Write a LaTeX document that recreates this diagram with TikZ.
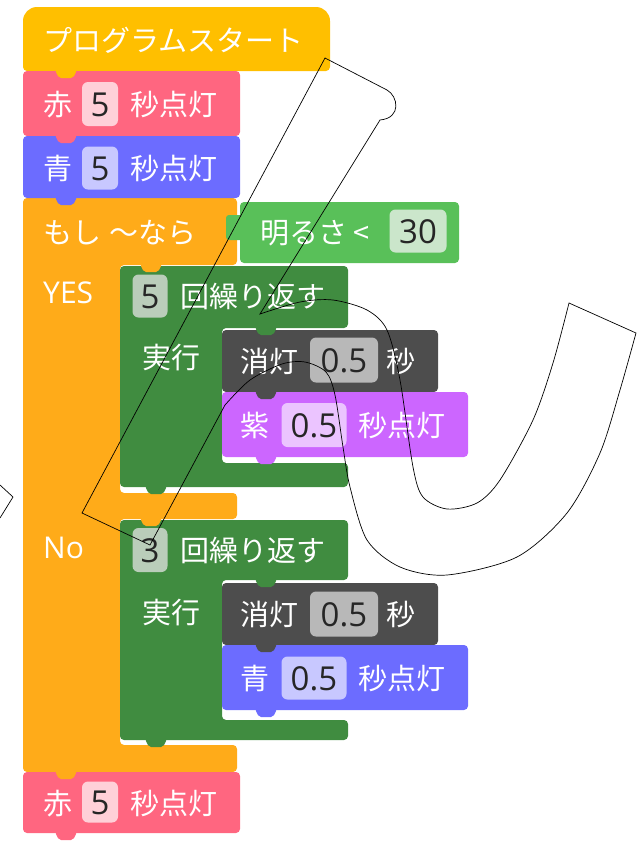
\documentclass[tikz,border=0pt]{standalone}
\usepackage{fontspec}
\newfontfamily\jp{Noto Sans CJK JP}
\newfontfamily\num{Open Sans}
\usetikzlibrary{positioning}

\definecolor{startY}{HTML}{FFBF00}
\definecolor{redB}{HTML}{FF6680}
\definecolor{blueB}{HTML}{6C6CFF}
\definecolor{orangeB}{HTML}{FFAB19}
\definecolor{condG}{HTML}{59C059}
\definecolor{loopG}{HTML}{408C40}
\definecolor{greyB}{HTML}{4D4D4D}
\definecolor{purpB}{HTML}{CC66FF}
\definecolor{redF}{HTML}{FFD0D8}
\definecolor{blueF}{HTML}{C8C8FF}
\definecolor{condF}{HTML}{CBE6CB}
\definecolor{loopF}{HTML}{BACDBA}
\definecolor{greyF}{HTML}{B8B8B8}
\definecolor{purpF}{HTML}{EBC4FF}

\begin{document}
\begin{tikzpicture}[x=1pt, y=-1pt,
  lbl/.style={anchor=west, inner sep=0pt, text=white, font=\jp\fontsize{29}{30}\selectfont, text height=24pt, text depth=2pt},
  lat/.style={anchor=west, inner sep=0pt, text=white, font=\num\fontsize{30}{31}\selectfont, text height=21pt, text depth=0pt},
  fld/.style={rounded corners=6pt, inner sep=0pt, text=black!85, font=\num\fontsize{33}{34}\selectfont, text height=24pt, text depth=0pt},
  blk/.style={rounded corners=4pt}]
  \useasboundingbox (0,0) rectangle (641,847);

  % if / else block
  \fill[orangeB, blk] (23,198) -- (237,198) -- (237,265) -- (120,265) -- (120,493) -- (237,493)
    -- (237,519) -- (120,519) -- (120,745) -- (237,745) -- (237,772) -- (23,772) -- cycle;

  % top stack
  \fill[startY, rounded corners=14pt] (23,71) -- (23,7) -- (330,7) [rounded corners=4pt] -- (330,71) -- cycle;
  \fill[redB, blk] (23,71) rectangle (240,136);
  \fill[blueB, blk] (23,136) rectangle (240,198);

  % condition
  \fill[condG, rounded corners=3pt] (226,215) rectangle (244,240);
  \fill[condG, blk] (240,202) rectangle (459,263);

  % repeat blocks
  \fill[loopG, blk] (120,266) -- (348,266) -- (348,328) -- (222,328) -- (222,463) -- (348,463) -- (348,487) -- (120,487) -- cycle;
  \fill[greyB, blk] (222,330) rectangle (438,392);
  \fill[purpB, blk] (222,392) rectangle (468,457);
  \fill[loopG, blk] (120,520) -- (348,520) -- (348,580) -- (222,580) -- (222,720) -- (348,720) -- (348,740) -- (120,740) -- cycle;
  \fill[greyB, blk] (222,583) rectangle (438,645);
  \fill[blueB, blk] (222,645) rectangle (468,710);

  \fill[redB, blk] (23,772) rectangle (240,833);

  % tabs
  \foreach \c/\x/\y in {startY/55/71, redB/55/136, blueB/55/198, orangeB/140/265, orangeB/140/519,
      orangeB/55/772, loopG/255/328, loopG/255/580, greyB/255/392, greyB/255/645,
      purpB/255/457, blueB/255/710, loopG/145/487, loopG/145/740, redB/55/833}
    \fill[\c, rounded corners=2pt] (\x,\y-1) -- ++(4,8) -- ++(14,0) -- ++(4,-8) -- cycle;

  % texts
  \node[lbl] (startlbl) at (43,40) {プログラムスタート};

  \node[lbl] (red1a) at (43,104) {赤};
  \node[fld, fill=redF, minimum width=36pt, minimum height=44pt] (red1val) at (100,104) {5};
  \node[lbl] (red1b) at (130,104) {秒点灯};

  \node[lbl] (blue1a) at (43,168) {青};
  \node[fld, fill=blueF, minimum width=36pt, minimum height=43pt] (blue1val) at (100,168) {5};
  \node[lbl] (blue1b) at (130,168) {秒点灯};

  \node[lbl] (iflbl) at (43,232) {もし\hspace{8pt}～なら};
  \node[lbl] (cond) at (260,232) {明るさ\hspace{6pt}<};
  \node[fld, fill=condF, minimum width=57pt, minimum height=43pt] (condval) at (418,231) {30};

  \node[lat] (yes) at (43,293) {YES};
  \node[fld, fill=loopF, minimum width=35pt, minimum height=43pt] (rep1val) at (150,296) {5};
  \node[lbl] (rep1) at (180,296) {回繰り返す};
  \node[lbl] (do1) at (142,357) {実行};
  \node[lbl] (off1) at (240,361) {消灯};
  \node[fld, fill=greyF, minimum width=68pt, minimum height=45pt] (off1val) at (344,360) {0.5};
  \node[lbl] (off1s) at (386,361) {秒};
  \node[lbl] (purpa) at (240,425) {紫};
  \node[fld, fill=purpF, minimum width=65pt, minimum height=44pt] (purpval) at (314,425) {0.5};
  \node[lbl] (purpb) at (358,425) {秒点灯};

  \node[lat] (no) at (43,548) {No};
  \node[fld, fill=loopF, minimum width=35pt, minimum height=44pt] (rep2val) at (150,550) {3};
  \node[lbl] (rep2) at (180,550) {回繰り返す};
  \node[lbl] (do2) at (142,612) {実行};
  \node[lbl] (off2) at (240,614) {消灯};
  \node[fld, fill=greyF, minimum width=68pt, minimum height=45pt] (off2val) at (344,614) {0.5};
  \node[lbl] (off2s) at (386,614) {秒};
  \node[lbl] (blue2a) at (240,678) {青};
  \node[fld, fill=blueF, minimum width=65pt, minimum height=43pt] (blue2val) at (314,678) {0.5};
  \node[lbl] (blue2b) at (358,678) {秒点灯};

  \node[lbl] (red2a) at (43,803) {赤};
  \node[fld, fill=redF, minimum width=36pt, minimum height=41pt] (red2val) at (100,802) {5};
  \node[lbl] (red2b) at (130,803) {秒点灯};

  % outline drawn over the blocks
  \draw[line width=0.7pt] (325,58) -- (387,90) .. controls (398,96) and (402,118) .. (380,120) -- (260,314)
    -- plot[smooth] coordinates {(260,314) (300,302) (333,300) (367,310) (387,330) (400,380) (413,467)
      (423,497) (447,509) (477,503) (500,480) (533,420) (553,363) (569,303)}
    -- (636,333)
    -- plot[smooth] coordinates {(636,333) (620,390) (600,453) (567,513) (517,557) (447,575) (400,567)
      (367,540) (350,487) (343,447) (335,395) (326,372) (305,362) (282,364) (250,380) (225,405)}
    -- (150,545) -- (82,513) -- cycle;
  \draw[line width=0.7pt] (0,485) -- (13,497) -- (0,518);
\end{tikzpicture}
\end{document}
